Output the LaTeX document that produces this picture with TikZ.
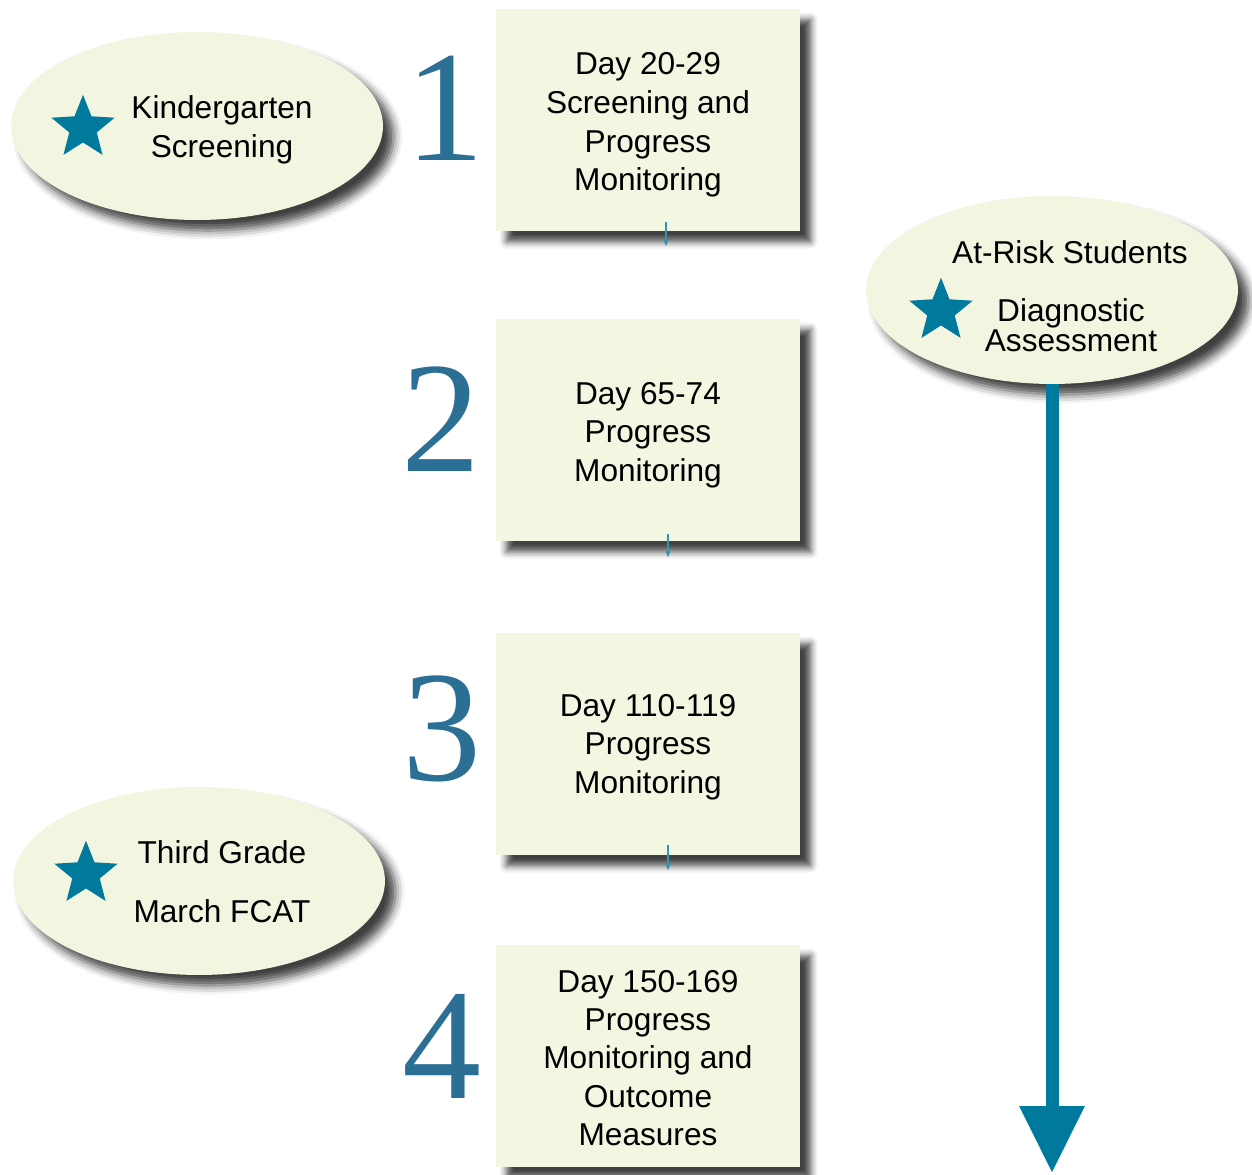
\documentclass[tikz,border=0pt]{standalone}
\usepackage{fontspec}
\setmainfont{Liberation Sans}
\newfontfamily\numfont{Liberation Serif}
\usetikzlibrary{shapes.geometric,arrows.meta,shadows.blur}
\definecolor{boxfill}{HTML}{F3F6E1}
\definecolor{ellfill}{HTML}{F2F5DF}
\definecolor{teal1}{HTML}{007A9C}
\definecolor{numcol}{HTML}{2C6F94}
\tikzset{
  stepbox/.style={rectangle, fill=boxfill, minimum width=6.08cm, minimum height=4.44cm, inner sep=0pt,
    blur shadow={shadow xshift=6pt, shadow yshift=-6pt, shadow blur radius=4pt, shadow opacity=75}},
  ell/.style={ellipse, fill=ellfill, minimum width=7.44cm, minimum height=3.76cm, inner sep=0pt,
    blur shadow={shadow xshift=6pt, shadow yshift=-6pt, shadow blur radius=5pt, shadow opacity=75}},
  lbl/.style={font=\fontsize{18}{22}\selectfont, inner sep=0pt, align=center},
  num/.style={font=\numfont\fontsize{90}{90}\selectfont, text=numcol, inner sep=0pt},
  starsym/.style={star, star points=5, star point ratio=2.3, fill=teal1, minimum size=1.33cm, inner sep=0pt},
  smallarr/.style={draw=teal1!80, line width=0.8pt, -{Stealth[length=4pt,width=3pt]}},
  bigarr/.style={draw=teal1, line width=0.26cm, -{Triangle[width=1.24cm,length=1.34cm]}}
}
\begin{document}
\begin{tikzpicture}[x=0.02cm,y=-0.02cm]
\useasboundingbox (0,0) rectangle (1252,1175);
% boxes
\node[stepbox] (b1) at (648,120) {};
\node[stepbox] (b2) at (648,430) {};
\node[stepbox] (b3) at (648,744) {};
\node[stepbox] (b4) at (648,1056) {};
\node[lbl] (l1) at (648,125) {Day 20-29\\Screening and\\Progress\\Monitoring};
\node[lbl] (l2) at (648,435) {Day 65-74\\Progress\\Monitoring};
\node[lbl] (l3) at (648,747) {Day 110-119\\Progress\\Monitoring};
\node[lbl, font=\fontsize{18}{21.7}\selectfont] (l4) at (648,1058) {Day 150-169\\Progress\\Monitoring and\\Outcome\\Measures};
% numbers
\node[num] (n1) at (445,108) {1};
\node[num] (n2) at (441,419) {2};
\node[num] (n3) at (442,729) {3};
\node[num] (n4) at (442,1046) {4};
% small arrows
\draw[smallarr] ([xshift=0.36cm,yshift=0.18cm]b1.south) -- ([xshift=0.36cm,yshift=-0.3cm]b1.south);
\draw[smallarr] ([xshift=0.40cm,yshift=0.14cm]b2.south) -- ([xshift=0.40cm,yshift=-0.32cm]b2.south);
\draw[smallarr] ([xshift=0.40cm,yshift=0.2cm]b3.south) -- ([xshift=0.40cm,yshift=-0.3cm]b3.south);
% ellipses
\node[ell] (e1) at (197,126) {};
\node[starsym] (s1) at (83,128) {};
\node[lbl, font=\fontsize{18}{22.3}\selectfont] (t1) at (222,130) {Kindergarten\\Screening};
\node[ell] (e2) at (1052,290) {};
\node[starsym] (s2) at (941,311) {};
\node[lbl] (t2a) at (1070,252) {At-Risk Students};
\node[lbl, font=\fontsize{18}{17}\selectfont] (t2b) at (1071,325) {Diagnostic\\Assessment};
\node[ell] (e3) at (199,881) {};
\node[starsym] (s3) at (86,874) {};
\node[lbl] (t3a) at (222,852) {Third Grade};
\node[lbl] (t3b) at (222,911) {March FCAT};
% big arrow
\coordinate (bigend) at (1052,1173);
\draw[bigarr] (e2.south) -- (bigend);
\end{tikzpicture}
\end{document}
